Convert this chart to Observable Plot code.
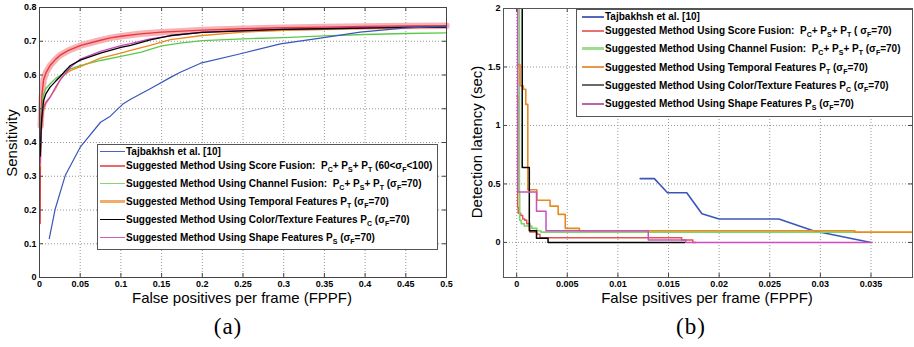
<!DOCTYPE html>
<html>
<head>
<meta charset="utf-8">
<script src="https://cdn.jsdelivr.net/npm/d3@7"></script>
<script src="https://cdn.jsdelivr.net/npm/@observablehq/plot@0.6"></script>
<style>
html,body{margin:0;padding:0;background:#fff;}
#root{position:relative;width:914px;height:347px;overflow:hidden;background:#fff;}
#root > svg{position:absolute;top:0;}
.legend{position:absolute;background:#fff;border:1px solid #555;box-sizing:border-box;font-family:"Liberation Sans",Arial,sans-serif;font-weight:bold;font-size:10px;color:#000;}
.row{position:absolute;white-space:pre;line-height:12px;height:12px;}
.sw{position:absolute;height:0;}
.sub{position:relative;top:3px;font-size:7px;}
</style>
</head>
<body>
<div id="root"></div>
<script>
// ---------- tick labels ----------
const xTicksA = [0, 0.05, 0.1, 0.15, 0.2, 0.25, 0.3, 0.35, 0.4, 0.45, 0.5];
const yTicksA = [0, 0.1, 0.2, 0.3, 0.4, 0.5, 0.6, 0.7, 0.8];
const xTicksB = [0, 0.005, 0.01, 0.015, 0.02, 0.025, 0.03, 0.035];
const yTicksB = [0, 0.5, 1, 1.5, 2];

// ---------- panel (a): [FPPF, sensitivity] ----------
const rocTajbakhsh = [[0.012,0.115],[0.0193,0.203],[0.0316,0.302],[0.05,0.386],[0.075,0.46],[0.087,0.478],[0.103,0.515],[0.112,0.528],[0.136,0.559],[0.161,0.593],[0.173,0.608],[0.198,0.635],[0.247,0.663],[0.296,0.692],[0.345,0.709],[0.394,0.727],[0.447,0.739],[0.5,0.745]];
const rocScoreFusion = [[0.0008,0.16],[0.001,0.3],[0.0015,0.45],[0.003,0.54],[0.005,0.585],[0.008,0.607],[0.013,0.628],[0.02,0.647],[0.025,0.658],[0.035,0.672],[0.05,0.687],[0.07,0.7],[0.087,0.71],[0.1,0.715],[0.124,0.722],[0.15,0.727],[0.175,0.73],[0.2,0.733],[0.25,0.737],[0.3,0.74],[0.35,0.742],[0.4,0.744],[0.45,0.745],[0.5,0.746]];
const rocChannelFusion = [[0.001,0.38],[0.002,0.46],[0.003,0.5],[0.005,0.544],[0.008,0.56],[0.013,0.574],[0.02,0.59],[0.025,0.598],[0.038,0.618],[0.05,0.628],[0.075,0.643],[0.1,0.655],[0.125,0.668],[0.15,0.686],[0.175,0.695],[0.2,0.702],[0.25,0.707],[0.3,0.711],[0.35,0.716],[0.4,0.72],[0.45,0.723],[0.5,0.725]];
const rocTemporal = [[0.0008,0.33],[0.002,0.43],[0.003,0.46],[0.005,0.495],[0.008,0.515],[0.013,0.534],[0.02,0.56],[0.025,0.584],[0.03,0.6],[0.038,0.613],[0.05,0.625],[0.075,0.65],[0.1,0.665],[0.112,0.673],[0.136,0.688],[0.161,0.705],[0.2,0.717],[0.25,0.727],[0.3,0.732],[0.35,0.735],[0.4,0.738],[0.45,0.74],[0.5,0.741]];
const rocColorTexture = [[0.001,0.36],[0.002,0.44],[0.003,0.48],[0.005,0.524],[0.008,0.545],[0.013,0.564],[0.02,0.582],[0.025,0.594],[0.03,0.608],[0.038,0.628],[0.05,0.644],[0.075,0.665],[0.1,0.682],[0.112,0.688],[0.136,0.704],[0.161,0.717],[0.2,0.726],[0.25,0.731],[0.3,0.735],[0.35,0.737],[0.4,0.739],[0.45,0.741],[0.5,0.742]];
const rocShape = [[0.001,0.34],[0.002,0.42],[0.003,0.46],[0.005,0.504],[0.008,0.52],[0.013,0.534],[0.02,0.565],[0.025,0.584],[0.038,0.623],[0.05,0.647],[0.075,0.67],[0.1,0.687],[0.112,0.693],[0.136,0.707],[0.161,0.716],[0.2,0.727],[0.25,0.732],[0.3,0.736],[0.35,0.739],[0.4,0.741],[0.45,0.742],[0.5,0.743]];

// ---------- panel (b): [FPPF, detection latency (sec)] ----------
const latTajbakhsh = [[0.0122,0.545],[0.0136,0.545],[0.0149,0.425],[0.0168,0.425],[0.0183,0.245],[0.02,0.2],[0.0259,0.2],[0.0293,0.099],[0.035,0]];
const latScoreFusion = [[0.00003,1.25],[0.0001,0.3],[0.00015,0.25],[0.0004,0.23],[0.0006,0.2],[0.0008,0.19],[0.001,0.16],[0.0013,0.14],[0.0013,0.09],[0.002,0.07],[0.0023,0.04],[0.0163,0.02],[0.0174,0],[0.0177,0]];
const latChannelFusion = [[0.00027,2],[0.00027,0.42],[0.0003,0.19],[0.00045,0.16],[0.00075,0.14],[0.0015,0.12],[0.002,0.1],[0.0024,0.088],[0.0334,0.088]];
const latTemporal = [[0.00006,1.52],[0.00033,1.34],[0.00066,1.31],[0.0009,1.18],[0.0011,0.45],[0.002,0.36],[0.0033,0.31],[0.0041,0.24],[0.0048,0.12],[0.0062,0.1],[0.0334,0.088],[0.0395,0.088]];
const latColorTexture = [[0.00055,2],[0.00055,0.64],[0.00125,0.1],[0.00196,0.035],[0.0031,0],[0.0166,0]];
const latShape = [[0.0001,2],[0.0001,0.43],[0.00196,0.267],[0.0029,0.1],[0.013,0.02],[0.0167,0],[0.0351,0]];

// ---------- legends ----------
const legendLabelsA = [
  "Tajbakhsh et al. [10]",
  "Suggested Method Using Score Fusion:  P_C+ P_S+ P_T (60<σ_F<100)",
  "Suggested Method Using Channel Fusion:  P_C+ P_S+ P_T (σ_F=70)",
  "Suggested Method Using Temporal Features P_T (σ_F=70)",
  "Suggested Method Using Color/Texture Features P_C (σ_F=70)",
  "Suggested Method Using Shape Features P_S (σ_F=70)"
];
const legendLabelsB = [
  "Tajbakhsh et al. [10]",
  "Suggested Method Using Score Fusion:  P_C+ P_S+ P_T ( σ_F=70)",
  "Suggested Method Using Channel Fusion:  P_C+ P_S+ P_T (σ_F=70)",
  "Suggested Method Using Temporal Features P_T (σ_F=70)",
  "Suggested Method Using Color/Texture Features P_C (σ_F=70)",
  "Suggested Method Using Shape Features P_S (σ_F=70)"
];
const colorsA = ["#3b56b9", "#e53b3b", "#5cc84a", "#ec8a1e", "#000000", "#cc44bb"];
const colorsB = ["#3b56b9", "#e85050", "#7cd66a", "#e88a20", "#000000", "#c850c0"];
const legendSwatchA = ["#4a62c0", "#e86a6a", "#86d476", "#f0ac68", "#000000", "#d060c0"];
const legendSwatchB = ["#5566bb", "#e87070", "#a0dc90", "#e89848", "#6a6a6a", "#c060b0"];

const xLabelA = "False positives per frame (FPPF)";
const yLabelA = "Sensitivity";
const xLabelB = "False psitives per frame (FPPF)";
const yLabelB = "Detection latency (sec)";
const captionA = "(a)";
const captionB = "(b)";

const root = document.getElementById("root");
const px = d => d[0], py = d => d[1];
const fmt = d => String(d);
const gridStyle = {stroke: "#8c8c8c", strokeOpacity: 1, strokeDasharray: "1,2", strokeWidth: 0.9};
const baseStyle = {fontFamily: '"Liberation Sans", Arial, sans-serif', fontSize: "9px", fontWeight: "bold", color: "#000", background: "transparent", overflow: "visible"};

// inward MATLAB-style ticks on all four sides (no text)
function tickMarks(xt, yt, innerW, innerH) {
  const t = 4;
  return [
    Plot.tickX(xt, {x: d => d, insetTop: innerH - t, stroke: "#444"}),
    Plot.tickX(xt, {x: d => d, insetBottom: innerH - t, stroke: "#444"}),
    Plot.tickY(yt, {y: d => d, insetRight: innerW - t, stroke: "#444"}),
    Plot.tickY(yt, {y: d => d, insetLeft: innerW - t, stroke: "#444"})
  ];
}

const chartA = Plot.plot({
  width: 460, height: 300,
  marginLeft: 39, marginRight: 14, marginTop: 7, marginBottom: 23,
  x: {domain: [0, 0.5]},
  y: {domain: [0, 0.8]},
  style: baseStyle,
  marks: [
    Plot.gridX(xTicksA, gridStyle),
    Plot.gridY(yTicksA, gridStyle),
    Plot.line(rocScoreFusion.filter(d => d[1] > 0.4), {x: px, y: py, stroke: "#f6a3aa", strokeWidth: 6.5, strokeOpacity: 0.85}),
    Plot.line(rocScoreFusion, {x: px, y: py, stroke: colorsA[1], strokeWidth: 1.4}),
    Plot.line(rocChannelFusion, {x: px, y: py, stroke: colorsA[2], strokeWidth: 1.3}),
    Plot.line(rocTemporal, {x: px, y: py, stroke: colorsA[3], strokeWidth: 1.3}),
    Plot.line(rocShape, {x: px, y: py, stroke: colorsA[5], strokeWidth: 1.3}),
    Plot.line(rocColorTexture, {x: px, y: py, stroke: colorsA[4], strokeWidth: 1.3}),
    Plot.line(rocTajbakhsh, {x: px, y: py, stroke: colorsA[0], strokeWidth: 1.2}),
    ...tickMarks(xTicksA, yTicksA, 407, 270),
    Plot.axisX(xTicksA, {tickSize: 0, tickPadding: 3, tickFormat: fmt, label: null}),
    Plot.axisY(yTicksA, {tickSize: 0, tickPadding: 3, tickFormat: fmt, label: null}),
    Plot.frame({stroke: "#444"})
  ]
});
chartA.style.left = "0px";
root.append(chartA);

const chartB = Plot.plot({
  width: 454, height: 300,
  marginLeft: 43, marginRight: 2, marginTop: 8, marginBottom: 23,
  x: {domain: [-0.0013, 0.0391]},
  y: {domain: [-0.3, 2]},
  style: baseStyle,
  marks: [
    Plot.gridX(xTicksB, gridStyle),
    Plot.gridY(yTicksB, gridStyle),
    Plot.line(latTajbakhsh, {x: px, y: py, stroke: colorsB[0], strokeWidth: 1.6, clip: true}),
    Plot.line(latScoreFusion, {x: px, y: py, stroke: colorsB[1], strokeWidth: 1.5, curve: "step-after", clip: true}),
    Plot.line(latChannelFusion, {x: px, y: py, stroke: colorsB[2], strokeWidth: 1.6, curve: "step-after", clip: true}),
    Plot.line(latTemporal, {x: px, y: py, stroke: colorsB[3], strokeWidth: 1.6, curve: "step-after", clip: true}),
    Plot.line(latColorTexture, {x: px, y: py, stroke: colorsB[4], strokeWidth: 1.5, curve: "step-after", clip: true}),
    Plot.line(latShape, {x: px, y: py, stroke: colorsB[5], strokeWidth: 1.5, curve: "step-after", clip: true}),
    ...tickMarks(xTicksB, yTicksB, 409, 269),
    Plot.axisX(xTicksB, {tickSize: 0, tickPadding: 3, tickFormat: fmt, label: null}),
    Plot.axisY(yTicksB, {tickSize: 0, tickPadding: 3, tickFormat: fmt, label: null}),
    Plot.frame({stroke: "#555"})
  ]
});
chartB.style.left = "460px";
root.append(chartB);

// ---------- legends (HTML, real text with subscripts) ----------
function subMarkup(s) {
  const esc = s.replace(/&/g, "&amp;").replace(/</g, "&lt;");
  return esc.replace(/_(.)/g, '<span class="sub">$1</span>');
}
function addLegend(box, labels, colors, widths, swLeft, swRight, textLeft) {
  const div = document.createElement("div");
  div.className = "legend";
  Object.assign(div.style, {left: box.left + "px", top: box.top + "px", width: box.width + "px", height: box.height + "px"});
  labels.forEach((lab, i) => {
    const cy = (i === 0 ? 7.7 : 21.7 + (i - 1) * box.step) - 1;
    const sw = document.createElement("div");
    sw.className = "sw";
    sw.style.left = swLeft + "px";
    sw.style.width = (swRight - swLeft) + "px";
    sw.style.top = (cy - widths[i] / 2) + "px";
    sw.style.borderTop = widths[i] + "px solid " + colors[i];
    const row = document.createElement("div");
    row.className = "row";
    row.style.left = textLeft + "px";
    row.style.top = (cy - 5.7) + "px";
    row.innerHTML = subMarkup(lab);
    div.append(sw, row);
  });
  root.append(div);
}
addLegend({left: 97, top: 144, width: 341, height: 106, step: 17.9}, legendLabelsA, legendSwatchA, [1.2, 2, 1.5, 3, 1.5, 1.5], 2, 27, 28);
addLegend({left: 576, top: 9, width: 337, height: 108, step: 18.25}, legendLabelsB, legendSwatchB, [2, 2, 3, 2, 2.5, 2], 4.7, 27.3, 28);

// ---------- axis titles and captions ----------
const overlay = d3.create("svg").attr("width", 914).attr("height", 347)
  .style("position", "absolute").style("left", "0px").style("top", "0px").style("pointer-events", "none");
const titleFont = '"Liberation Sans", Arial, sans-serif';
overlay.append("text").attr("x", 242).attr("y", 303).attr("text-anchor", "middle")
  .attr("font-family", titleFont).attr("font-size", 15).text(xLabelA);
overlay.append("text").attr("x", 707).attr("y", 303).attr("text-anchor", "middle")
  .attr("font-family", titleFont).attr("font-size", 15).text(xLabelB);
overlay.append("text").attr("transform", "translate(17.3,143) rotate(-90)").attr("text-anchor", "middle")
  .attr("font-family", titleFont).attr("font-size", 15).text(yLabelA);
overlay.append("text").attr("transform", "translate(481.5,142) rotate(-90)").attr("text-anchor", "middle")
  .attr("font-family", titleFont).attr("font-size", 15).text(yLabelB);
overlay.append("text").attr("x", 228).attr("y", 334).attr("text-anchor", "middle")
  .attr("font-family", '"Liberation Serif", "DejaVu Serif", serif').attr("font-size", 23).attr("letter-spacing", 1).text(captionA);
overlay.append("text").attr("x", 691).attr("y", 334).attr("text-anchor", "middle")
  .attr("font-family", '"Liberation Serif", "DejaVu Serif", serif').attr("font-size", 23).attr("letter-spacing", 1).text(captionB);
root.append(overlay.node());
</script>
</body>
</html>
